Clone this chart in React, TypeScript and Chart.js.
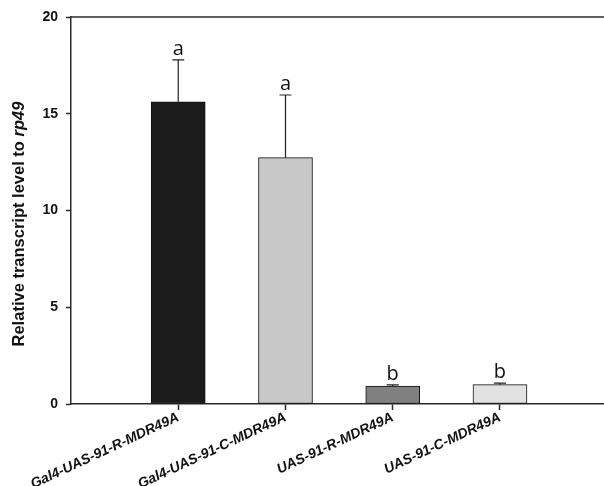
import React, { useEffect, useRef } from 'react';
import { Chart, registerables } from 'chart.js';

Chart.register(...registerables);

const categories = ['Gal4-UAS-91-R-MDR49A', 'Gal4-UAS-91-C-MDR49A', 'UAS-91-R-MDR49A', 'UAS-91-C-MDR49A'];
const positions = [1, 2, 3, 4];
const means = [15.62, 12.73, 0.92, 1.0];
const errors = [2.16, 3.24, 0.07, 0.08];
const letters = ['a', 'a', 'b', 'b'];
const barColors = ['#1b1b1b', '#c8c8c8', '#808080', '#e2e2e2'];
const yTicks = [0, 5, 10, 15, 20];
const yTitleMain = 'Relative transcript level to ';
const yTitleItalic = 'rp49';

const AXIS_COLOR = '#2a2a2a';
const FONT = "'Liberation Sans', Arial, sans-serif";

const errorBarPlugin = {
  id: 'errorBars',
  afterDatasetsDraw(chart: any) {
    const ctx = chart.ctx;
    const meta = chart.getDatasetMeta(0);
    const yScale = chart.scales.y;
    ctx.save();
    meta.data.forEach((el: any, i: number) => {
      const x = el.x;
      const yTop = yScale.getPixelForValue(means[i] + errors[i]);
      ctx.strokeStyle = '#222';
      ctx.lineWidth = 1.2;
      ctx.beginPath();
      ctx.moveTo(x, el.y);
      ctx.lineTo(x, yTop);
      ctx.moveTo(x - 6, yTop);
      ctx.lineTo(x + 6, yTop);
      ctx.stroke();
      ctx.fillStyle = '#111';
      ctx.font = "20px 'Open Sans', sans-serif";
      ctx.textAlign = 'center';
      ctx.textBaseline = 'alphabetic';
      ctx.fillText(letters[i], x, yTop - 5);
    });
    ctx.restore();
  },
};

const framePlugin = {
  id: 'frameTop',
  afterDraw(chart: any) {
    const { ctx, chartArea } = chart;
    ctx.save();
    ctx.strokeStyle = AXIS_COLOR;
    ctx.lineWidth = 1.5;
    ctx.beginPath();
    ctx.moveTo(chartArea.left, chartArea.top);
    ctx.lineTo(chartArea.right, chartArea.top);
    ctx.stroke();
    ctx.restore();
  },
};

const yTitlePlugin = {
  id: 'yTitle',
  afterDraw(chart: any) {
    const ctx = chart.ctx;
    const yScale = chart.scales.y;
    const cy = yScale.getPixelForValue(9.3);
    const cx = 19;
    ctx.save();
    ctx.translate(cx, cy);
    ctx.rotate(-Math.PI / 2);
    ctx.fillStyle = '#111';
    ctx.textBaseline = 'middle';
    ctx.textAlign = 'left';
    const fMain = `bold 16.5px ${FONT}`;
    const fIt = `italic bold 16.5px ${FONT}`;
    ctx.font = fMain;
    const w1 = ctx.measureText(yTitleMain).width;
    ctx.font = fIt;
    const w2 = ctx.measureText(yTitleItalic).width;
    const start = -(w1 + w2) / 2;
    ctx.font = fMain;
    ctx.fillText(yTitleMain, start, 0);
    ctx.font = fIt;
    ctx.fillText(yTitleItalic, start + w1, 0);
    ctx.restore();
  },
};

export default function App() {
  const ref = useRef<HTMLCanvasElement | null>(null);

  useEffect(() => {
    if (!ref.current) return;
    const chart = new Chart(ref.current, {
      type: 'bar',
      data: {
        datasets: [
          {
            data: positions.map((p, i) => ({ x: p, y: means[i] })),
            backgroundColor: barColors,
            borderColor: '#111',
            borderWidth: 1,
            borderSkipped: false,
            barThickness: 54,
          } as any,
        ],
      },
      options: {
        animation: false,
        responsive: false,
        layout: { padding: { top: 17, left: 0, right: 0, bottom: 0 } },
        plugins: {
          legend: { display: false },
          tooltip: { enabled: false },
        },
        scales: {
          x: {
            type: 'linear',
            offset: false,
            min: 0,
            max: 4.97,
            afterBuildTicks: (s: any) => {
              s.ticks = positions.map((v) => ({ value: v }));
            },
            afterFit: (s: any) => {
              s.height = 82;
            },
            grid: {
              display: true,
              offset: false,
              drawOnChartArea: false,
              drawTicks: true,
              tickLength: 6,
              tickColor: AXIS_COLOR,
              tickWidth: 1.5,
            },
            border: { display: true, color: AXIS_COLOR, width: 1.5 },
            ticks: {
              autoSkip: false,
              minRotation: 25,
              maxRotation: 25,
              padding: -1,
              color: '#111',
              font: { family: FONT, size: 14, weight: 'bold', style: 'italic' },
              callback: (v: any) => {
                const idx = positions.indexOf(Number(v));
                return idx >= 0 ? categories[idx] : '';
              },
            },
          },
          y: {
            min: 0,
            max: 20,
            afterBuildTicks: (s: any) => {
              s.ticks = yTicks.map((v) => ({ value: v }));
            },
            afterFit: (s: any) => {
              s.width = 71;
            },
            grid: {
              display: true,
              drawOnChartArea: false,
              drawTicks: true,
              tickLength: 5,
              tickColor: AXIS_COLOR,
              tickWidth: 1.5,
            },
            border: { display: true, color: AXIS_COLOR, width: 1.5 },
            ticks: {
              padding: 8,
              color: '#111',
              font: { family: FONT, size: 14, weight: 'bold' },
            },
          },
        },
      },
      plugins: [errorBarPlugin, framePlugin, yTitlePlugin],
    } as any);
    return () => chart.destroy();
  }, []);

  return (
    <div style={{ position: 'fixed', left: 0, top: 0, width: 604, height: 486, background: '#fff' }}>
      <canvas ref={ref} width={604} height={486} style={{ width: 604, height: 486 }} />
    </div>
  );
}
